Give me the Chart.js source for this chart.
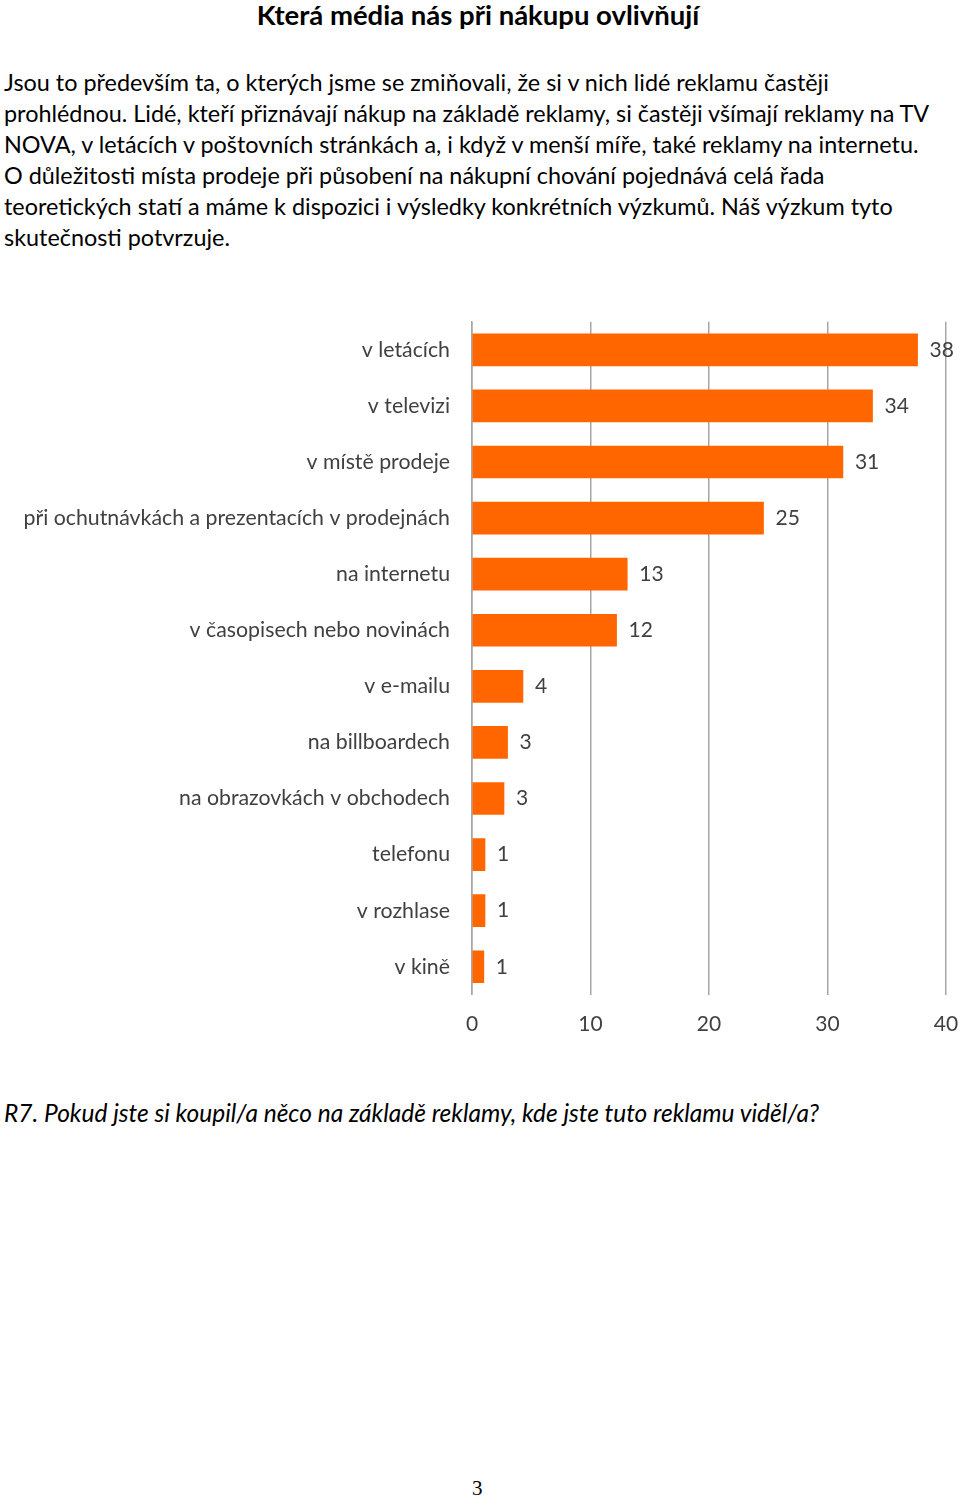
<!DOCTYPE html>
<html>
<head>
<meta charset="utf-8">
<script src="https://cdn.jsdelivr.net/npm/chart.js@4.4.1/dist/chart.umd.min.js"></script>
<style>
  body { margin: 0; background: #fff; width: 960px; height: 1502px; position: relative; font-family: Lato, "Open Sans", sans-serif; color: #000; }
  h1 { position: absolute; top: 0; left: 0; width: 956px; margin: 0; text-align: center; font-size: 27.5px; font-weight: bold; line-height: 30px; }
  .txt { position: absolute; top: 67px; left: 4px; width: 955px; font-size: 23.4px; line-height: 30.9px; margin: 0; }
  .cap { position: absolute; top: 1098px; left: 4px; font-size: 24.5px; font-style: italic; margin: 0; }
  .pg { position: absolute; top: 1476px; left: 472px; font-family: "Liberation Serif", serif; font-size: 21px; }
  #box { position: absolute; top: 287px; left: 0; width: 960px; height: 767px; }
</style>
</head>
<body>
<h1>Která média nás při nákupu ovlivňují</h1>
<p class="txt">Jsou to především ta, o kterých jsme se zmiňovali, že si v nich lidé reklamu častěji<br>prohlédnou. Lidé, kteří přiznávají nákup na základě reklamy, si častěji všímají reklamy na TV<br>NOVA, v letácích v poštovních stránkách a, i když v menší míře, také reklamy na internetu.<br>O důležitosti místa prodeje při působení na nákupní chování pojednává celá řada<br>teoretických statí a máme k dispozici i výsledky konkrétních výzkumů. Náš výzkum tyto<br>skutečnosti potvrzuje.</p>
<div id="box"><canvas id="barChart"></canvas></div>
<p class="cap">R7. Pokud jste si koupil/a něco na základě reklamy, kde jste tuto reklamu viděl/a?</p>
<div class="pg">3</div>
<script>
let media = ["v letácích", "v televizi", "v místě prodeje", "při ochutnávkách a prezentacích v prodejnách",
    "na internetu", "v časopisech nebo novinách", "v e-mailu", "na billboardech",
    "na obrazovkách v obchodech", "telefonu", "v rozhlase", "v kině"];
let share = [37.6, 33.8, 31.3, 24.6, 13.1, 12.2, 4.3, 3.0, 2.7, 1.1, 1.1, 1.0];
let xTicks = [0, 10, 20, 30, 40];

let barColor = '#ff6600';
let textColor = '#404040';

// draws the rounded value right of every bar
let valueLabels = {
    id: 'valueLabels',
    afterDatasetsDraw(chart) {
        let ctx = chart.ctx;
        let meta = chart.getDatasetMeta(0);
        ctx.save();
        ctx.font = '21px Lato, "Open Sans", sans-serif';
        ctx.fillStyle = textColor;
        ctx.textBaseline = 'middle';
        ctx.textAlign = 'left';
        meta.data.forEach(function (bar, i) {
            ctx.fillText(Math.round(share[i]), bar.x + 12, bar.y);
        });
        ctx.restore();
    }
};

let ctx1 = document.getElementById('barChart');
let barChart = new Chart(ctx1, {
    type: 'bar',
    data: {
        labels: media,
        datasets: [{
            data: share,
            backgroundColor: barColor,
            barThickness: 32
        }]
    },
    options: {
        indexAxis: 'y',
        responsive: true,
        maintainAspectRatio: false,
        animation: false,
        layout: { padding: { top: 20, right: 14, bottom: 0, left: 0 } },
        plugins: {
            legend: { display: false },
            tooltip: { enabled: false }
        },
        scales: {
            x: {
                min: 0,
                max: 40,
                afterBuildTicks(axis) {
                    axis.ticks = xTicks.map(v => ({ value: v }));
                },
                afterFit(axis) { axis.paddingRight = 0; axis.paddingLeft = 0; },
                grid: { color: '#a6a6a6', lineWidth: 1.5, drawTicks: false },
                border: { display: false },
                ticks: { color: textColor, font: { size: 21, family: 'Lato' }, padding: 17 }
            },
            y: {
                afterFit(axis) { axis.width = 472; },
                grid: { display: false, drawTicks: false },
                border: { display: true, color: '#a6a6a6', width: 1.5 },
                ticks: { color: textColor, font: { size: 21.3, family: 'Lato' }, padding: 22 }
            }
        }
    },
    plugins: [valueLabels]
});
</script>
</body>
</html>
